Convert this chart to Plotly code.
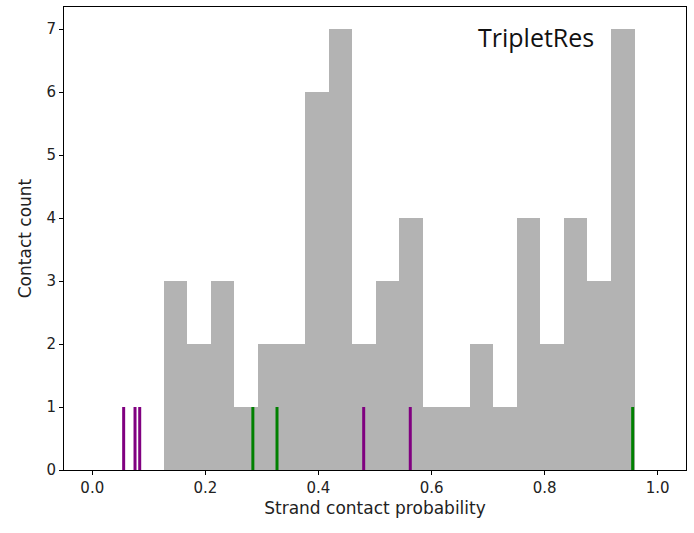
import numpy as np
import plotly.graph_objects as go

# Histogram of strand contact probabilities (20 equal bins)
bin_start = 0.1264
bin_end = 0.959
counts = [3, 2, 3, 1, 2, 2, 6, 7, 2, 3, 4, 1, 1, 2, 1, 4, 2, 4, 3, 7]

# Rug markers for individual contacts
purple_marks = [0.0555, 0.0756, 0.0839, 0.480, 0.5624]
green_marks = [0.284, 0.3267, 0.9557]
rug_height = 1

x_ticks = [0.0, 0.2, 0.4, 0.6, 0.8, 1.0]
y_ticks = [0, 1, 2, 3, 4, 5, 6, 7]

edges = np.linspace(bin_start, bin_end, len(counts) + 1)
centers = (edges[:-1] + edges[1:]) / 2
width = edges[1] - edges[0]

fig = go.Figure()
fig.add_trace(go.Bar(
    x=centers, y=counts, width=width,
    marker=dict(color="#b3b3b3", line=dict(width=0)),
    showlegend=False, hoverinfo="skip",
))


def rug(values, color):
    xs, ys = [], []
    for v in values:
        xs += [v, v, None]
        ys += [0, rug_height, None]
    return go.Scatter(x=xs, y=ys, mode="lines",
                      line=dict(color=color, width=3),
                      showlegend=False, hoverinfo="skip")


fig.add_trace(rug(purple_marks, "#800080"))
fig.add_trace(rug(green_marks, "#008000"))

fig.add_annotation(
    text="TripletRes", xref="paper", yref="paper",
    x=0.856, y=0.935, xanchor="right", yanchor="middle",
    showarrow=False, font=dict(family="Open Sans", size=25, color="#111"),
)

axis_common = dict(
    showline=True, linecolor="black", linewidth=1, mirror=True,
    ticks="outside", ticklen=4, tickwidth=1, tickcolor="black",
    showgrid=False, zeroline=False,
    tickfont=dict(family="DejaVu Sans", size=15, color="#222"),
)
title_font = dict(family="DejaVu Sans", size=17, color="#222")

fig.update_layout(
    width=694, height=533,
    margin=dict(l=64, r=8, t=7, b=63),
    plot_bgcolor="white", paper_bgcolor="white",
    bargap=0,
    xaxis=dict(range=[-0.05, 1.05], tickvals=x_ticks,
               ticktext=[f"{t:.1f}" for t in x_ticks],
               title=dict(text="Strand contact probability",
                          font=title_font, standoff=6),
               **axis_common),
    yaxis=dict(range=[0, 7.35], tickvals=y_ticks,
               title=dict(text="Contact count",
                          font=title_font, standoff=10),
               **axis_common),
)

fig.write_html("out.html")
